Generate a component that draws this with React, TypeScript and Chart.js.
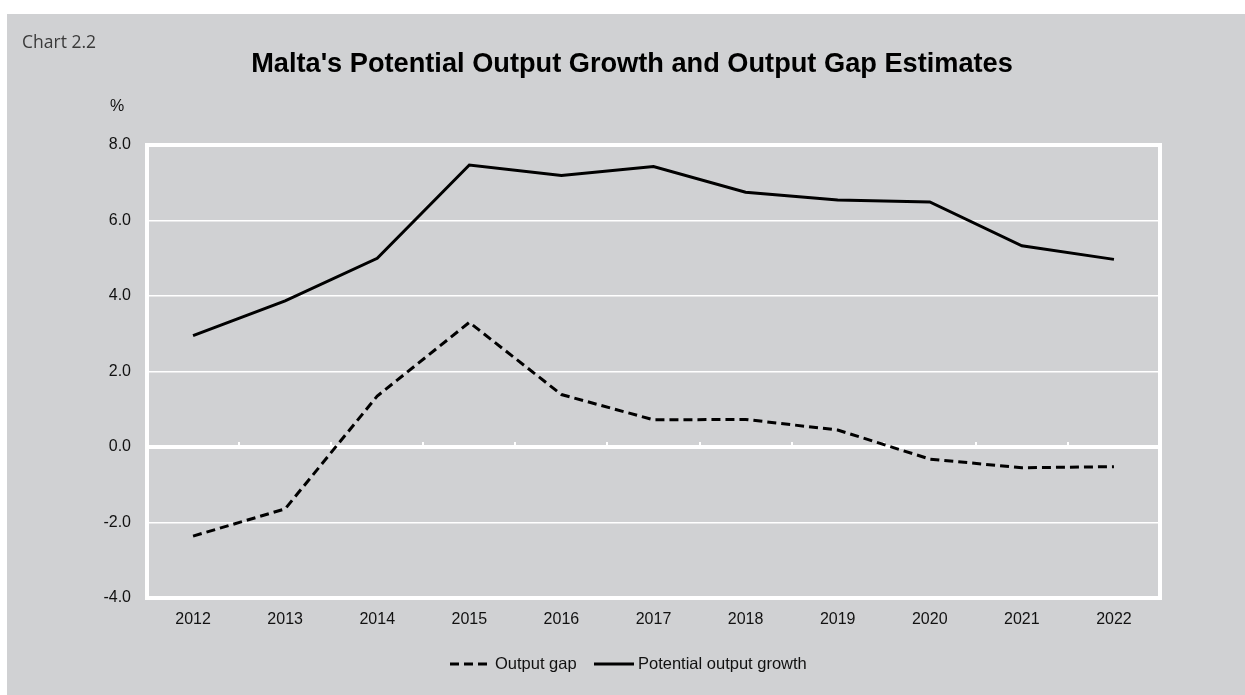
import React, { useEffect, useRef } from "react";
import { Chart, registerables } from "chart.js";

Chart.register(...registerables);

const years = ["2012", "2013", "2014", "2015", "2016", "2017", "2018", "2019", "2020", "2021", "2022"];
const outputGap = [-2.36, -1.64, 1.35, 3.3, 1.39, 0.72, 0.73, 0.45, -0.32, -0.55, -0.52];
const potentialGrowth = [2.95, 3.87, 5.0, 7.47, 7.19, 7.43, 6.75, 6.54, 6.49, 5.33, 4.97];
const chartLabel = "Chart 2.2";
const titleText = "Malta's Potential Output Growth and Output Gap Estimates";
const unitLabel = "%";
const legendGap = "Output gap";
const legendPotential = "Potential output growth";

const W = 1238;
const H = 681;
const BG = "#d0d1d3";

export default function App() {
  const ref = useRef<HTMLCanvasElement | null>(null);

  useEffect(() => {
    const canvas = ref.current;
    if (!canvas) return;

    const decor = {
      id: "decor",
      beforeDatasetsDraw(chart: any) {
        const { ctx, chartArea, scales } = chart;
        const x = scales.x;
        const y = scales.y;
        ctx.save();
        ctx.strokeStyle = "#ffffff";
        ctx.lineWidth = 4;
        ctx.strokeRect(chartArea.left, chartArea.top, chartArea.right - chartArea.left, chartArea.bottom - chartArea.top);
        const y0 = y.getPixelForValue(0);
        ctx.beginPath();
        ctx.moveTo(chartArea.left, y0);
        ctx.lineTo(chartArea.right, y0);
        ctx.stroke();
        ctx.lineWidth = 2;
        const step = x.getPixelForValue(1) - x.getPixelForValue(0);
        for (let i = 1; i < years.length; i++) {
          const px = Math.round(x.getPixelForValue(i) - step / 2);
          ctx.beginPath();
          ctx.moveTo(px, y0);
          ctx.lineTo(px, y0 - 5);
          ctx.stroke();
        }
        ctx.restore();
      },
      afterDraw(chart: any) {
        const { ctx } = chart;
        ctx.save();
        ctx.fillStyle = "#3a3a3a";
        ctx.font = "17.5px 'Open Sans'";
        ctx.textAlign = "left";
        ctx.textBaseline = "alphabetic";
        ctx.fillText(chartLabel, 15, 34);

        ctx.fillStyle = "#000000";
        ctx.font = "bold 27.2px 'Liberation Sans', Arial";
        ctx.textAlign = "center";
        ctx.textBaseline = "middle";
        ctx.fillText(titleText, 625, 51);

        ctx.fillStyle = "#111111";
        ctx.font = "16px 'Liberation Sans', Arial";
        ctx.textAlign = "left";
        ctx.fillText(unitLabel, 103, 93);

        const ly = 650;
        ctx.font = "16.5px 'Liberation Sans', Arial";
        ctx.strokeStyle = "#000000";
        ctx.lineWidth = 3;
        ctx.setLineDash([9, 5]);
        ctx.beginPath();
        ctx.moveTo(443, ly);
        ctx.lineTo(480, ly);
        ctx.stroke();
        ctx.setLineDash([]);
        ctx.fillText(legendGap, 488, ly);
        ctx.beginPath();
        ctx.moveTo(587, ly);
        ctx.lineTo(627, ly);
        ctx.stroke();
        ctx.fillText(legendPotential, 631, ly);
        ctx.restore();
      },
    };

    const chart = new Chart(canvas, {
      type: "line",
      data: {
        labels: years,
        datasets: [
          {
            label: legendGap,
            data: outputGap,
            borderColor: "#000000",
            borderWidth: 3,
            borderDash: [9, 5],
            pointRadius: 0,
            tension: 0,
            fill: false,
          },
          {
            label: legendPotential,
            data: potentialGrowth,
            borderColor: "#000000",
            borderWidth: 3,
            pointRadius: 0,
            tension: 0,
            fill: false,
          },
        ],
      },
      options: {
        responsive: false,
        animation: false,
        layout: { padding: { left: 0, right: 85, top: 131, bottom: 0 } },
        plugins: {
          legend: { display: false },
          title: { display: false },
          tooltip: { enabled: false },
        },
        scales: {
          x: {
            offset: true,
            grid: { display: false, drawTicks: false },
            border: { display: false },
            ticks: {
              color: "#111111",
              font: { family: "'Liberation Sans', Arial", size: 16 },
              padding: 12,
              maxRotation: 0,
            },
            afterFit: (s: any) => {
              s.height = 97;
            },
          },
          y: {
            min: -4,
            max: 8,
            grid: {
              color: "#ffffff",
              lineWidth: (c: any) => (c.tick && (c.tick.value === 0 || c.tick.value === 8 || c.tick.value === -4) ? 0 : 1.5),
              drawTicks: false,
            },
            border: { display: false },
            ticks: {
              stepSize: 2,
              color: "#111111",
              font: { family: "'Liberation Sans', Arial", size: 16 },
              padding: 16,
              callback: (v: any) => Number(v).toFixed(1),
            },
            afterFit: (s: any) => {
              s.width = 140;
            },
          },
        },
      },
      plugins: [decor],
    });

    return () => chart.destroy();
  }, []);

  return (
    <div style={{ position: "absolute", left: 7, top: 14, width: W, height: H, background: BG }}>
      <canvas ref={ref} width={W} height={H} style={{ display: "block", width: W, height: H }} />
    </div>
  );
}
